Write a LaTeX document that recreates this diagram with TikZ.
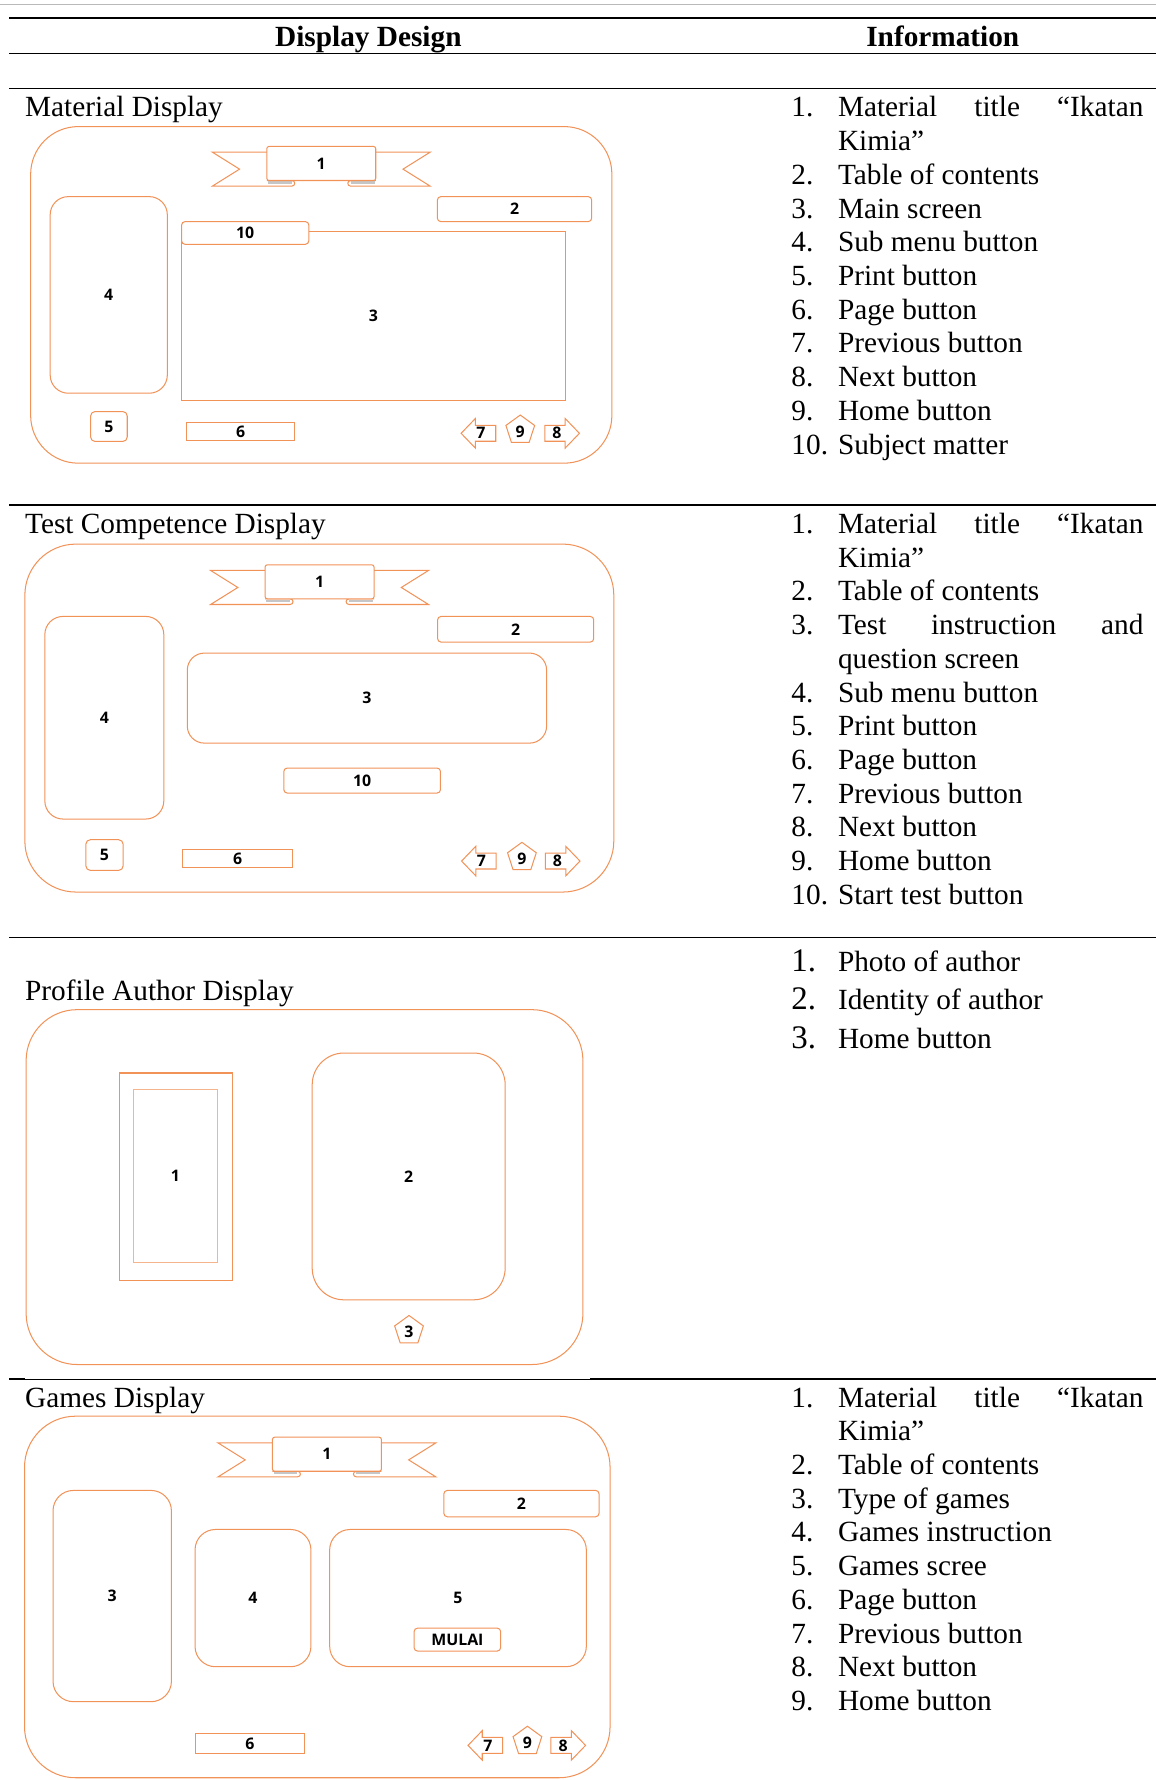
\documentclass[tikz,border=0pt]{standalone}
\usepackage{fontspec}
\setmainfont{Liberation Serif}
\newfontfamily\boxfont{Open Sans}
\usetikzlibrary{shapes.geometric}
\definecolor{orc}{RGB}{241,146,88}
\definecolor{orl}{RGB}{246,180,140}
\tikzset{
  shp/.style={draw=orc, line width=0.9pt},
  box/.style={shp, fill=white, inner sep=0pt, outer sep=0pt, rounded corners=3pt,
    font=\boxfont\bfseries\fontsize{14}{16}\selectfont},
  lbl/.style={inner sep=0pt, font=\boxfont\bfseries\fontsize{14}{16}\selectfont},
  rule/.style={line width=1.4pt},
  txt/.style={inner sep=0pt, font=\fontsize{25.8}{29.7}\selectfont},
  hdr/.style={inner sep=0pt, font=\bfseries\fontsize{25.8}{29.7}\selectfont},
  ptxt/.style={inner sep=0pt, font=\fontsize{25.8}{33.8}\selectfont}
}
\newcommand{\bx}[7][]{%
  \pgfmathsetmacro{\bw}{#5-#3}\pgfmathsetmacro{\bh}{#6-#4}%
  \node[box,#1,minimum width=\bw pt,minimum height=\bh pt] (#2) at ({(#3+#5)/2},{(#4+#6)/2}) {#7};}
\newcommand{\ribbon}[4]{%
  \filldraw[shp, fill=white] (#2,#3+5) -- (#2-48,#3+5) -- (#2-24,#3+20) -- (#2-48,#3+35) -- (#2+22,#3+35)
     .. controls (#2+25.5,#3+35) and (#2+25.5,#3+30) .. (#2+22,#3+30) -- (#2,#3+30);
  \filldraw[shp, fill=white] (#2+96,#3+5) -- (#2+144,#3+5) -- (#2+120,#3+20) -- (#2+144,#3+35) -- (#2+74,#3+35)
     .. controls (#2+70.5,#3+35) and (#2+70.5,#3+30) .. (#2+74,#3+30) -- (#2+96,#3+30);
  \fill[gray!45] (#2+1,#3+30.6) rectangle (#2+22,#3+32.8);
  \fill[gray!45] (#2+74,#3+30.6) rectangle (#2+95,#3+32.8);
  \node[box, rounded corners=2pt, minimum width=96pt, minimum height=30pt] (#1) at (#2+48,#3+15) {#4};}
\newcommand{\leftarr}[4]{%
  \draw[shp] (#2,#3) -- (#2+12.5,#3-13) -- (#2+12.5,#3-7) -- (#2+30.5,#3-7) -- (#2+30.5,#3+7)
     -- (#2+12.5,#3+7) -- (#2+12.5,#3+13) -- cycle;
  \node[lbl] (#1) at (#2+17.5,#3) {#4};}
\newcommand{\rightarr}[4]{%
  \draw[shp] (#2+30.5,#3) -- (#2+18,#3-13) -- (#2+18,#3-7) -- (#2,#3-7) -- (#2,#3+7)
     -- (#2+18,#3+7) -- (#2+18,#3+13) -- cycle;
  \node[lbl] (#1) at (#2+10.7,#3) {#4};}
\newcommand{\pent}[4]{%
  \filldraw[shp,fill=white] (#2,#3-13.3) -- (#2-12.65,#3-4.11) -- (#2-7.82,#3+10.76)
     -- (#2+7.82,#3+10.76) -- (#2+12.65,#3-4.11) -- cycle;
  \node[lbl] (#1) at (#2,#3+1.5) {#4};}
\newcommand{\num}[1]{\makebox[41pt][l]{#1}}
\newcommand{\bnum}[1]{\makebox[41pt][l]{\fontsize{29}{33.8}\selectfont #1}}
\newcommand{\jl}[1]{\makebox[269pt][s]{#1}}
\begin{document}
\begin{tikzpicture}[x=1pt,y=-1pt]
\useasboundingbox (0,0) rectangle (1018,1568);
% table rules
\draw[gray!55, line width=1.2pt] (0,4) -- (1018,4);
\draw[rule] (8,16) -- (1018,16);
\draw[rule] (8,47) -- (1018,47);
\draw[rule] (8,78) -- (1018,78);
\draw[rule] (8,445) -- (1018,445);
\draw[rule] (8,826) -- (1018,826);
\draw[rule] (8,1215) -- (21.6,1215);
\draw[line width=1pt] (21.6,1215) -- (520,1215);
\draw[rule] (520,1215) -- (1018,1215);
\node[hdr, anchor=base] (h1) at (324.5,41) {Display Design};
\node[hdr, anchor=base] (h2) at (830.5,41) {Information};

% ---------- Material Display
\node[txt, anchor=base west] (tA) at (22,103) {Material Display};
\draw[shp, rounded corners=42pt] (27,111.5) rectangle (539,408);
\ribbon{mA1}{235}{129}{1}
\bx{mA2}{385.3}{173.2}{521.2}{195.2}{2}
\bx[rounded corners=16pt]{mA4}{44.2}{173.2}{147.4}{346.4}{4}
\bx[rounded corners=0pt]{mA3}{160}{204}{497.8}{352.8}{3}
\bx{mA10}{160}{195.2}{272}{215.2}{10}
\bx[rounded corners=4pt]{mA5}{79.8}{362.5}{112.1}{388.9}{5}
\bx[rounded corners=0pt]{mA6}{164.3}{372.2}{259.5}{388.3}{6}
\leftarr{mA7}{406.2}{381.7}{7}
\pent{mA9}{458.3}{378.9}{9}
\rightarr{mA8}{479.9}{381.7}{8}
\node[txt, anchor=base west, align=left] (iA) at (697,400) {%
\num{1.}\jl{Material title “Ikatan}\\
\num{}Kimia”\\
\num{2.}Table of contents\\
\num{3.}Main screen\\
\num{4.}Sub menu button\\
\num{5.}Print button\\
\num{6.}Page button\\
\num{7.}Previous button\\
\num{8.}Next button\\
\num{9.}Home button\\
\num{10.}Subject matter};

% ---------- Test Competence Display
\node[txt, anchor=base west] (tB) at (22,470) {Test Competence Display};
\draw[shp, rounded corners=45pt] (21.9,479.3) rectangle (540.7,785.8);
\ribbon{mB1}{233.5}{497.5}{1}
\bx{mB2}{385.5}{543}{523}{565.6}{2}
\bx[rounded corners=16pt]{mB4}{39.5}{543}{144.3}{721.5}{4}
\bx[rounded corners=15pt]{mB3}{165}{575.3}{481.5}{654.6}{3}
\bx{mB10}{250}{676.6}{388}{698.6}{10}
\bx[rounded corners=4pt]{mB5}{75.6}{739.7}{108.5}{766.7}{5}
\bx[rounded corners=0pt]{mB6}{160.8}{748}{258}{764.6}{6}
\leftarr{mB7}{406.6}{758.5}{7}
\pent{mB9}{459.75}{755.3}{9}
\rightarr{mB8}{480.4}{758.5}{8}
\node[txt, anchor=base west, align=left] (iB) at (697,796.7) {%
\num{1.}\jl{Material title “Ikatan}\\
\num{}Kimia”\\
\num{2.}Table of contents\\
\num{3.}\jl{Test instruction and}\\
\num{}question screen\\
\num{4.}Sub menu button\\
\num{5.}Print button\\
\num{6.}Page button\\
\num{7.}Previous button\\
\num{8.}Next button\\
\num{9.}Home button\\
\num{10.}Start test button};

% ---------- Profile Author Display
\node[txt, anchor=base west] (tC) at (22,881) {Profile Author Display};
\draw[shp, rounded corners=45pt] (23,889.4) rectangle (513.5,1202);
\draw[shp] (105,945.2) rectangle (204.6,1127.8);
\bx[rounded corners=0pt, draw=orl]{mC1}{117.4}{959.8}{191.7}{1112.5}{1}
\bx[rounded corners=28pt]{mC2}{275}{927.6}{445}{1145}{2}
\pent{mC3}{360.3}{1172.1}{3}
\node[ptxt, anchor=base west, align=left] (iC) at (697,923.2) {%
\bnum{1.}Photo of author\\
\bnum{2.}Identity of author\\
\bnum{3.}Home button};

% ---------- Games Display
\node[txt, anchor=base west] (tD) at (22,1239.5) {Games Display};
\draw[shp, rounded corners=45pt] (21.6,1247.5) rectangle (537.4,1566);
\ribbon{mD1}{240}{1266}{1}
\bx{mD2}{391}{1312.9}{527.7}{1336.1}{2}
\bx[rounded corners=18pt]{mD3}{46.7}{1312.9}{151}{1499}{3}
\bx[rounded corners=18pt]{mD4}{171.8}{1347.3}{273.9}{1468.2}{4}
\bx[rounded corners=18pt]{mD5}{290.4}{1347.3}{516.5}{1468.2}{5}
\bx{mDm}{364.8}{1434.2}{441}{1454.4}{MULAI}
\bx[rounded corners=0pt]{mD6}{171.8}{1527.2}{268.5}{1544.8}{6}
\leftarr{mD7}{412.3}{1537.5}{7}
\pent{mD9}{464.6}{1533.9}{9}
\rightarr{mD8}{485.3}{1537.5}{8}
\node[txt, anchor=base west, align=left] (iD) at (697,1506.8) {%
\num{1.}\jl{Material title “Ikatan}\\
\num{}Kimia”\\
\num{2.}Table of contents\\
\num{3.}Type of games\\
\num{4.}Games instruction\\
\num{5.}Games scree\\
\num{6.}Page button\\
\num{7.}Previous button\\
\num{8.}Next button\\
\num{9.}Home button};
\end{tikzpicture}
\end{document}
